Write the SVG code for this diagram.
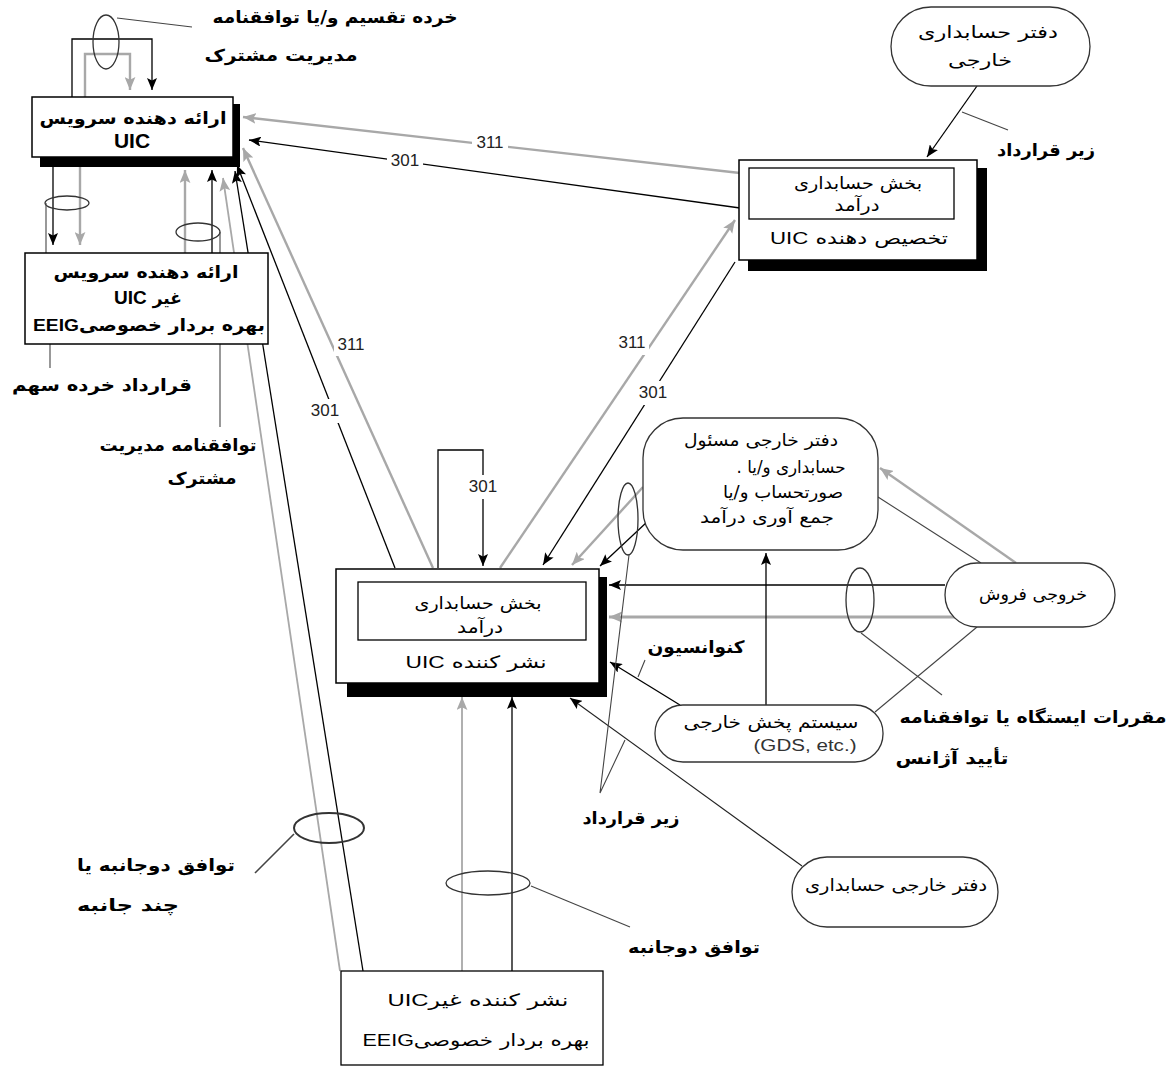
<svg xmlns="http://www.w3.org/2000/svg" width="1172" height="1067" viewBox="0 0 1172 1067">
<style>
.bk{stroke:#000;stroke-width:1.3;fill:none}
.gr{stroke:#a8a8a8;stroke-width:2.4;fill:none}
.th{stroke:#444;stroke-width:1.1;fill:none}
.ell{stroke:#333;stroke-width:1.3;fill:none}
.box{fill:#fff;stroke:#000;stroke-width:1.5}
.shd{fill:#000}
.rnd{fill:#fff;stroke:#333;stroke-width:1.3}
.fa{font-family:"DejaVu Sans",sans-serif;direction:rtl;text-anchor:middle;fill:#000;font-size:17px}
.lb{font-family:"DejaVu Sans",sans-serif;direction:rtl;text-anchor:middle;fill:#000;font-weight:bold;font-size:17px}
.num{font-family:"Liberation Sans",Arial,sans-serif;font-size:17px;fill:#222;text-anchor:middle}
.en{font-family:"Liberation Sans",Arial,sans-serif}
</style>
<defs>
<marker id="ab" viewBox="0 0 12 10" refX="12" refY="5" markerWidth="12" markerHeight="10" markerUnits="userSpaceOnUse" orient="auto"><path d="M0,0 L12,5 L0,10 L2.5,5 z" fill="#000"/></marker>
<marker id="ag" viewBox="0 0 12 10" refX="12" refY="5" markerWidth="13" markerHeight="11" markerUnits="userSpaceOnUse" orient="auto"><path d="M0,0 L12,5 L0,10 L2.5,5 z" fill="#a8a8a8"/></marker>
</defs>
<rect width="1172" height="1067" fill="#fff"/>

<g id="connectors">
  <path class="bk" d="M72,97 V39 H152 V90" marker-end="url(#ab)"/>
  <path class="gr" d="M85,97 V54 H130 V90" marker-end="url(#ag)"/>
  <path class="bk" d="M53,167 V245" marker-end="url(#ab)"/>
  <path class="gr" d="M80,167 V245" marker-end="url(#ag)"/>
  <path class="gr" d="M185,253 V170" marker-end="url(#ag)"/>
  <path class="bk" d="M212,253 V170" marker-end="url(#ab)"/>
  <path class="gr" style="stroke-width:1.8" d="M340,971 L223,178" marker-end="url(#ag)"/>
  <path class="bk" d="M363,971 L235,171" marker-end="url(#ab)"/>
  <path class="bk" d="M395,568 L237,165" marker-end="url(#ab)"/>
  <path class="gr" d="M433,568 L243,148" marker-end="url(#ag)"/>
  <path class="gr" d="M740,173 L243,117" marker-end="url(#ag)"/>
  <path class="bk" d="M740,208 L249,140" marker-end="url(#ab)"/>
  <path class="gr" d="M500,568 L735,220" marker-end="url(#ag)"/>
  <path class="bk" d="M735,262 L543,565" marker-end="url(#ab)"/>
  <path class="bk" d="M438,568 V450 H483 V566" marker-end="url(#ab)"/>
  <path class="bk" d="M977,86 L927,157" marker-end="url(#ab)"/>
  <path class="gr" d="M643,487 L572,565" marker-end="url(#ag)"/>
  <path class="bk" d="M647,522 L600,566" marker-end="url(#ab)"/>
  <path class="bk" d="M945,585 H609" marker-end="url(#ab)"/>
  <path class="gr" style="stroke-width:3" d="M958,617 H609" marker-end="url(#ag)"/>
  <path class="th" d="M878,497 L981,563"/>
  <path class="gr" d="M1016,563 L880,468" marker-end="url(#ag)"/>
  <path class="th" d="M875,712 L977,627"/>
  <path class="bk" d="M680,705 L610,662" marker-end="url(#ab)"/>
  <path class="bk" d="M766,705 V553" marker-end="url(#ab)"/>
  <path class="th" style="stroke:#222" d="M802,866 L570,698" marker-end="url(#ab)"/>
  <path class="gr" style="stroke-width:1.8" d="M462,971 V697" marker-end="url(#ag)"/>
  <path class="bk" d="M512,971 V697" marker-end="url(#ab)"/>
</g>

<g id="annotations">
  <ellipse class="ell" cx="106" cy="42" rx="13" ry="27"/>
  <path class="th" d="M117,18 L192,27"/>
  <ellipse class="ell" cx="67" cy="203" rx="22" ry="7"/>
  <path class="th" d="M46,203 V253"/>
  <ellipse class="ell" cx="198" cy="232" rx="22" ry="9"/>
  <path class="th" d="M220,232 V253"/>
  <path class="th" d="M50,344 V368"/>
  <path class="th" d="M220,344 V427"/>
  <ellipse class="ell" cx="628" cy="519" rx="10" ry="36"/>
  <path class="th" d="M629,555 L600,793 L625,740"/>
  <path class="th" d="M638,677 L645,660"/>
  <ellipse class="ell" cx="860" cy="600" rx="14" ry="32"/>
  <path class="th" d="M861,633 L942,695"/>
  <path class="th" d="M962,112 L1008,130"/>
  <ellipse class="ell" cx="488" cy="883" rx="42" ry="12"/>
  <path class="th" d="M531,886 L630,927"/>
  <ellipse class="ell" style="stroke-width:2" cx="329" cy="828" rx="35" ry="15"/>
  <path class="th" style="stroke-width:1.6" d="M294,834 L255,873"/>
</g>

<g id="node-A">
  <rect class="shd" x="40" y="104" width="200" height="63"/>
  <rect class="box" x="32" y="97" width="201" height="60"/>
  <text class="fa" x="133" y="124" font-weight="bold" textLength="187" lengthAdjust="spacingAndGlyphs">ارائه دهنده سرویس</text>
  <text class="en" x="132" y="148" font-size="21" font-weight="bold" text-anchor="middle">UIC</text>
</g>

<g id="node-B">
  <rect class="box" x="25" y="253" width="243" height="91"/>
  <text class="fa" x="146" y="278" font-weight="bold" textLength="185" lengthAdjust="spacingAndGlyphs">ارائه دهنده سرویس</text>
  <text class="fa" x="148" y="304" font-weight="bold">غیر <tspan class="en" font-size="19">UIC</tspan></text>
  <text class="fa" x="149" y="331" font-weight="bold" textLength="232" lengthAdjust="spacingAndGlyphs">بهره بردار خصوصی<tspan class="en">EEIG</tspan></text>
</g>

<g id="node-D">
  <rect class="shd" x="748" y="168" width="239" height="103"/>
  <rect class="box" x="739" y="160" width="238" height="100"/>
  <rect class="box" x="749" y="168" width="205" height="51" style="stroke-width:1.3"/>
  <text class="fa" x="858" y="189" textLength="128" lengthAdjust="spacingAndGlyphs">بخش حسابداری</text>
  <text class="fa" x="857" y="211" textLength="45" lengthAdjust="spacingAndGlyphs">درآمد</text>
  <text class="fa" x="859" y="244" textLength="178" lengthAdjust="spacingAndGlyphs">تخصیص دهنده <tspan class="en">UIC</tspan></text>
</g>

<g id="node-C">
  <rect class="shd" x="347" y="577" width="260" height="120"/>
  <rect class="box" x="336" y="569" width="263" height="114"/>
  <rect class="box" x="358" y="582" width="228" height="58" style="stroke-width:1.3"/>
  <text class="fa" x="478" y="609" textLength="127" lengthAdjust="spacingAndGlyphs">بخش حسابداری</text>
  <text class="fa" x="480" y="633" textLength="46" lengthAdjust="spacingAndGlyphs">درآمد</text>
  <text class="fa" x="476" y="668" textLength="141" lengthAdjust="spacingAndGlyphs">نشر کننده <tspan class="en">UIC</tspan></text>
</g>

<g id="node-E">
  <rect class="rnd" x="891" y="7" width="199" height="79" rx="40"/>
  <text class="fa" x="988" y="38" textLength="140" lengthAdjust="spacingAndGlyphs">دفتر حسابداری</text>
  <text class="fa" x="980" y="66" textLength="64" lengthAdjust="spacingAndGlyphs">خارجی</text>
</g>

<g id="node-F">
  <rect class="rnd" x="643" y="418" width="235" height="132" rx="40"/>
  <text class="fa" x="761" y="446" textLength="154" lengthAdjust="spacingAndGlyphs">دفتر خارجی مسئول</text>
  <text class="fa" x="791" y="473" textLength="109" lengthAdjust="spacingAndGlyphs">حسابداری و/یا .</text>
  <text class="fa" x="783" y="498" textLength="120" lengthAdjust="spacingAndGlyphs">صورتحساب و/یا</text>
  <text class="fa" x="767" y="523" textLength="134" lengthAdjust="spacingAndGlyphs">جمع آوری درآمد</text>
</g>

<g id="node-I">
  <rect class="rnd" x="945" y="563" width="170" height="64" rx="32"/>
  <text class="fa" x="1033" y="600" textLength="108" lengthAdjust="spacingAndGlyphs">خروجی فروش</text>
</g>

<g id="node-G">
  <rect class="rnd" x="655" y="705" width="228" height="57" rx="28"/>
  <text class="fa" x="771" y="728" textLength="175" lengthAdjust="spacingAndGlyphs">سیستم پخش  خارجی</text>
  <text class="en" x="805" y="751" font-size="16" text-anchor="middle" fill="#333" textLength="103" lengthAdjust="spacingAndGlyphs">(GDS, etc.)</text>
</g>

<g id="node-H">
  <rect class="rnd" x="792" y="857" width="206" height="70" rx="35"/>
  <text class="fa" x="896" y="891" textLength="182" lengthAdjust="spacingAndGlyphs">دفتر خارجی حسابداری</text>
</g>

<g id="node-J">
  <rect class="box" x="341" y="971" width="262" height="94" style="stroke-width:1.3"/>
  <text class="fa" x="478" y="1006" textLength="181" lengthAdjust="spacingAndGlyphs">نشر کننده غیر<tspan class="en">UIC</tspan></text>
  <text class="fa" x="476" y="1046" textLength="227" lengthAdjust="spacingAndGlyphs">بهره بردار خصوصی<tspan class="en">EEIG</tspan></text>
</g>

<g id="number-labels">
  <rect x="472" y="132" width="36" height="20" fill="#fff"/><text class="num" x="490" y="148">311</text>
  <rect x="387" y="150" width="36" height="20" fill="#fff"/><text class="num" x="405" y="166">301</text>
  <rect x="334" y="332" width="34" height="24" fill="#fff"/><text class="num" x="351" y="350">311</text>
  <rect x="308" y="399" width="34" height="24" fill="#fff"/><text class="num" x="325" y="416">301</text>
  <rect x="615" y="331" width="34" height="24" fill="#fff"/><text class="num" x="632" y="348">311</text>
  <rect x="636" y="381" width="34" height="24" fill="#fff"/><text class="num" x="653" y="398">301</text>
  <rect x="466" y="475" width="34" height="24" fill="#fff"/><text class="num" x="483" y="492">301</text>
</g>

<g id="labels">
  <text class="lb" x="335" y="23" textLength="245" lengthAdjust="spacingAndGlyphs">خرده تقسیم و/یا توافقنامه</text>
  <text class="lb" x="281" y="61" textLength="153" lengthAdjust="spacingAndGlyphs">مدیریت مشترک</text>
  <text class="lb" x="1046" y="156" textLength="98" lengthAdjust="spacingAndGlyphs">زیر قرارداد</text>
  <text class="lb" x="102" y="391" textLength="180" lengthAdjust="spacingAndGlyphs">قرارداد خرده سهم</text>
  <text class="lb" x="178" y="451" textLength="157" lengthAdjust="spacingAndGlyphs">توافقنامه مدیریت</text>
  <text class="lb" x="202" y="484" textLength="69" lengthAdjust="spacingAndGlyphs">مشترک</text>
  <text class="lb" x="696" y="653" textLength="97" lengthAdjust="spacingAndGlyphs">کنوانسیون</text>
  <text class="lb" x="1033" y="723" textLength="267" lengthAdjust="spacingAndGlyphs">مقررات ایستگاه یا توافقنامه</text>
  <text class="lb" x="952" y="764" textLength="113" lengthAdjust="spacingAndGlyphs">تأیید آژانس</text>
  <text class="lb" x="631" y="824" textLength="97" lengthAdjust="spacingAndGlyphs">زیر قرارداد</text>
  <text class="lb" x="156" y="871" textLength="158" lengthAdjust="spacingAndGlyphs">توافق دوجانبه یا</text>
  <text class="lb" x="128" y="911" textLength="102" lengthAdjust="spacingAndGlyphs">چند جانبه</text>
  <text class="lb" x="694" y="953" textLength="132" lengthAdjust="spacingAndGlyphs">توافق دوجانبه</text>
</g>
</svg>
